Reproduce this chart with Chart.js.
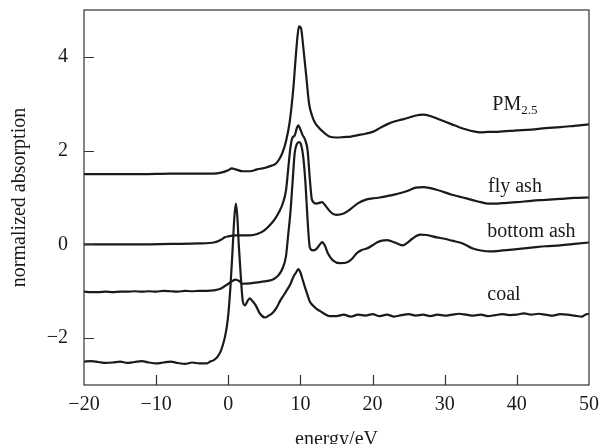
<!DOCTYPE html>
<html>
<head>
<meta charset="utf-8">
<script src="https://cdn.jsdelivr.net/npm/chart.js@4/dist/chart.umd.min.js"></script>
<style>
html,body{margin:0;padding:0;background:#fff;}
#wrap{width:601px;height:444px;position:relative;}
</style>
</head>
<body>
<div id="wrap"><canvas id="c" width="601" height="444"></canvas></div>
<script>
// ---- data ----
const xTicks = [-20, -10, 0, 10, 20, 30, 40, 50];
const yTicks = [-2, 0, 2, 4];

const pmX = [-20,-16,-12,-8,-4,-2,-1,0,0.5,1,2,3,4,5,6,6.5,7,7.5,8,8.5,9,9.3,9.6,9.8,10.1,10.4,10.8,11.2,11.6,12,12.5,13,14,15,16,17,18,19,20,21,22,23,24,25,26,27,28,29,30,31,32,33,34,35,36,37,38,39,40,42,44,46,48,50];
const pmY = [1.50,1.50,1.50,1.51,1.51,1.51,1.53,1.58,1.62,1.60,1.56,1.56,1.60,1.63,1.68,1.71,1.80,1.95,2.20,2.60,3.30,3.90,4.45,4.65,4.60,4.20,3.60,3.00,2.75,2.60,2.50,2.42,2.30,2.28,2.29,2.30,2.33,2.36,2.40,2.48,2.56,2.62,2.66,2.70,2.75,2.77,2.74,2.68,2.62,2.56,2.50,2.45,2.41,2.39,2.40,2.40,2.41,2.42,2.43,2.45,2.48,2.50,2.53,2.56];

const flyX = [-20,-16,-12,-8,-4,-2,-1,-0.5,0,1,2,3,4,5,6,6.5,7,7.5,8,8.3,8.6,8.9,9.2,9.5,9.7,10.0,10.3,10.6,11.0,11.3,11.6,12.2,13,13.5,14,14.5,15,16,17,18,19,20,21,22,23,24,25,26,27,28,29,30,31,32,33,34,35,36,37,38,40,42,44,46,48,50];
const flyY = [0.00,0.00,0.00,0.01,0.02,0.04,0.10,0.15,0.17,0.19,0.19,0.19,0.22,0.30,0.45,0.55,0.68,0.85,1.15,1.60,2.05,2.28,2.32,2.48,2.54,2.45,2.33,2.25,2.00,1.40,0.95,0.87,0.90,0.82,0.72,0.65,0.63,0.66,0.76,0.88,0.95,0.98,1.00,1.03,1.06,1.10,1.15,1.21,1.22,1.20,1.16,1.11,1.06,1.02,0.98,0.94,0.90,0.87,0.87,0.88,0.90,0.93,0.95,0.97,0.99,1.00];

const bottomX = [-20,-19,-18,-17,-16,-15,-14,-13,-12,-11,-10,-9,-8,-7,-6,-5,-4,-3,-2,-1,0,0.5,1,1.5,2,3,4,5,6,6.5,7,7.5,8,8.3,8.6,8.9,9.2,9.5,9.8,10.1,10.4,10.7,11.0,11.3,11.7,12.2,12.7,13.0,13.4,13.8,14.5,15.5,16.5,17.2,17.8,18.5,19.2,20,20.6,21.3,22,22.7,23.4,24.2,24.8,25.5,26.6,27.5,28.9,30,31,32.5,33.9,35,36.3,38,40,42,44,46,48,50];
const bottomY = [-1.01,-1.02,-1.02,-1.01,-1.02,-1.01,-1.01,-1.00,-1.01,-1.00,-1.01,-0.99,-1.00,-1.01,-0.99,-1.00,-0.99,-0.99,-0.98,-0.94,-0.84,-0.79,-0.75,-0.78,-0.84,-0.83,-0.81,-0.79,-0.76,-0.72,-0.65,-0.52,-0.25,0.20,0.66,1.30,1.94,2.14,2.18,2.12,1.85,1.30,0.50,-0.06,-0.13,-0.10,0.00,0.05,-0.03,-0.19,-0.34,-0.40,-0.38,-0.30,-0.19,-0.12,-0.09,-0.02,0.04,0.08,0.09,0.06,0.02,-0.02,0.03,0.12,0.21,0.20,0.15,0.12,0.08,0.02,-0.09,-0.13,-0.15,-0.13,-0.10,-0.07,-0.04,-0.02,0.01,0.04];

const coalX = [-20,-19,-18,-17,-16,-15,-14,-13,-12,-11,-10,-9,-8,-7,-6,-5,-4,-3,-2.5,-2,-1.5,-1,-0.5,-0.2,0,0.3,0.6,0.85,1.05,1.25,1.45,1.7,2.0,2.3,2.7,3.0,3.4,3.8,4.4,5.1,5.6,6.1,6.7,7.2,7.7,8.1,8.6,9.0,9.4,9.7,10.0,10.3,10.6,10.9,11.3,11.7,12.2,12.7,13.3,14,15,16,17,18,19,20,21,22,23,24,25,26,27,28,29,30,31,32,33,34,35,36,37,38,39,40,41,42,43,44,45,46,47,48,49,49.5,50];
const coalY = [-2.50,-2.49,-2.51,-2.53,-2.52,-2.50,-2.53,-2.51,-2.49,-2.52,-2.54,-2.52,-2.50,-2.53,-2.55,-2.52,-2.54,-2.54,-2.50,-2.47,-2.40,-2.26,-2.00,-1.75,-1.50,-0.90,-0.10,0.60,0.87,0.60,0.00,-0.60,-1.20,-1.30,-1.20,-1.15,-1.22,-1.30,-1.48,-1.56,-1.52,-1.47,-1.35,-1.20,-1.08,-0.98,-0.85,-0.70,-0.60,-0.53,-0.60,-0.75,-0.90,-1.04,-1.22,-1.30,-1.37,-1.42,-1.48,-1.53,-1.53,-1.50,-1.54,-1.50,-1.52,-1.49,-1.53,-1.50,-1.54,-1.51,-1.49,-1.52,-1.50,-1.53,-1.50,-1.52,-1.50,-1.48,-1.50,-1.52,-1.50,-1.53,-1.51,-1.49,-1.51,-1.50,-1.47,-1.50,-1.48,-1.50,-1.52,-1.49,-1.50,-1.52,-1.54,-1.50,-1.48];

const seriesNames = ['PM2.5', 'fly ash', 'bottom ash', 'coal'];
const labelX = [36.6, 36.0, 35.9, 35.9];
const labelY = [2.98, 1.24, 0.27, -1.07];

// ---- build ----
function pts(xs, ys){ return xs.map((x,i)=>({x:x, y:ys[i]})); }
const FONT = '"Liberation Serif", "Times New Roman", serif';
const INK = '#1a1a1a';

const ds = [[pmX,pmY],[flyX,flyY],[bottomX,bottomY],[coalX,coalY]].map((p,i)=>({
  label: seriesNames[i],
  data: pts(p[0], p[1]),
  borderColor: INK,
  borderWidth: 2.2,
  pointRadius: 0,
  fill: false,
  cubicInterpolationMode: 'monotone'
}));

const framePlugin = {
  id: 'frame',
  afterDatasetsDraw(chart){
    const {ctx, chartArea:a, scales} = chart;
    ctx.save();
    ctx.strokeStyle = '#333';
    ctx.lineWidth = 1.2;
    ctx.strokeRect(a.left, a.top, a.right - a.left, a.bottom - a.top);
    ctx.beginPath();
    xTicks.forEach(v=>{
      if (v === scales.x.min || v === scales.x.max) return;
      const px = Math.round(scales.x.getPixelForValue(v)) + 0.5;
      ctx.moveTo(px, a.bottom); ctx.lineTo(px, a.bottom - 10);
    });
    yTicks.forEach(v=>{
      const py = Math.round(scales.y.getPixelForValue(v)) + 0.5;
      ctx.moveTo(a.left, py); ctx.lineTo(a.left + 10, py);
    });
    ctx.stroke();
    // series labels
    ctx.fillStyle = INK;
    ctx.textBaseline = 'middle';
    ctx.textAlign = 'left';
    seriesNames.forEach((name,i)=>{
      const px = scales.x.getPixelForValue(labelX[i]);
      const py = scales.y.getPixelForValue(labelY[i]);
      if (name === 'PM2.5') {
        ctx.font = '20px ' + FONT;
        ctx.fillText('PM', px, py);
        const w = ctx.measureText('PM').width;
        ctx.font = '13px ' + FONT;
        ctx.fillText('2.5', px + w, py + 6);
      } else {
        ctx.font = '20px ' + FONT;
        ctx.fillText(name, px, py);
      }
    });
    ctx.restore();
  }
};

const minus = v => String(v).replace('-', '\u2212');

new Chart(document.getElementById('c'), {
  type: 'line',
  data: { datasets: ds },
  options: {
    responsive: false,
    animation: false,
    events: [],
    layout: { padding: { left: 0, right: 12, top: 10, bottom: 0 } },
    plugins: { legend: { display: false }, tooltip: { enabled: false } },
    scales: {
      x: {
        type: 'linear', min: -20, max: 50,
        afterBuildTicks: s => { s.ticks = xTicks.map(v=>({value:v})); },
        afterFit: s => { s.height = 59; s.paddingLeft = 0; s.paddingRight = 0; },
        grid: { display: false, drawTicks: false },
        border: { display: false },
        ticks: { color: INK, font: { family: FONT, size: 20 }, padding: 8, maxRotation: 0, autoSkip: false, callback: v => minus(v) },
        title: { display: true, text: 'energy/eV', color: INK, font: { family: FONT, size: 20 }, padding: { top: 9, bottom: -8 } }
      },
      y: {
        type: 'linear', min: -3, max: 5,
        afterBuildTicks: s => { s.ticks = yTicks.map(v=>({value:v})); },
        afterFit: s => { s.width = 84; s.paddingTop = 0; s.paddingBottom = 0; },
        grid: { display: false, drawTicks: false },
        border: { display: false },
        ticks: { color: INK, font: { family: FONT, size: 20 }, padding: 16, autoSkip: false, callback: v => minus(v) },
        title: { display: true, text: 'normalized absorption', color: INK, font: { family: FONT, size: 20 }, padding: { top: 8, bottom: 8 } }
      }
    }
  },
  plugins: [framePlugin]
});
</script>
</body>
</html>
